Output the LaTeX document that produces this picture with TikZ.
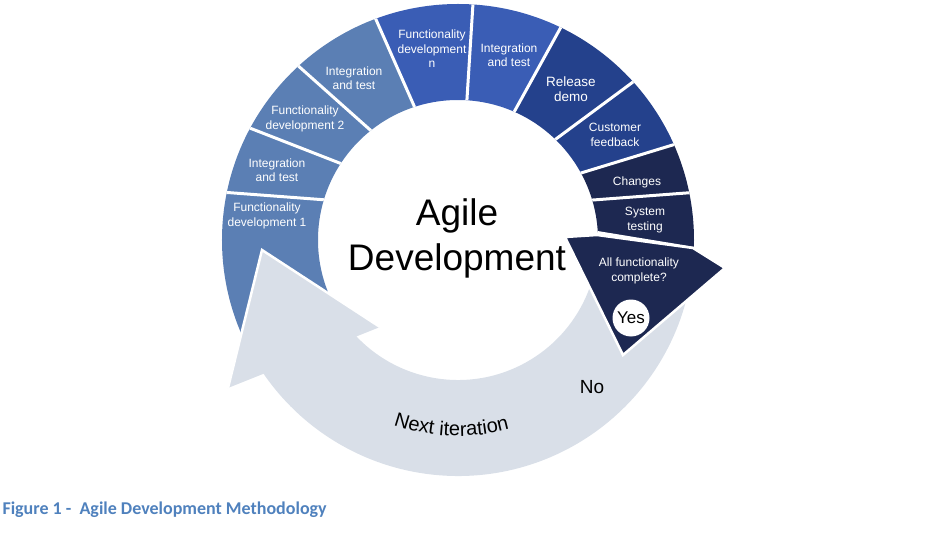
\documentclass[tikz,border=0pt]{standalone}
\usepackage{fontspec}
\setmainfont{Liberation Sans}
\newfontfamily\capfont{Carlito}
\usetikzlibrary{decorations.text}

\definecolor{segsteel}{HTML}{5B7FB4}
\definecolor{segroyal}{HTML}{3A5DB5}
\definecolor{segdeep}{HTML}{24418C}
\definecolor{segnavy}{HTML}{1D2851}
\definecolor{iterband}{HTML}{D9DFE8}
\definecolor{capblue}{HTML}{4F81BD}

\tikzset{
  seglabel/.style={white, font=\fontsize{12}{14.5}\selectfont, align=center},
  gap/.style={draw=white, line width=3},
}

\begin{document}
\begin{tikzpicture}[x=1pt,y=1pt]
\useasboundingbox (-458,-306) rectangle (479,240);
\coordinate (P) at (2,30);

% ring of steps
\begin{scope}[even odd rule]
\clip (0,0) circle[radius=236] (0,0) circle[radius=140];
\fill[segsteel] (P) -- ++(212:400) arc[start angle=212, end angle=175.7, radius=400] -- cycle;
\fill[segsteel] (P) -- ++(175.7:400) arc[start angle=175.7, end angle=158.7, radius=400] -- cycle;
\fill[segsteel] (P) -- ++(158.7:400) arc[start angle=158.7, end angle=138.3, radius=400] -- cycle;
\fill[segsteel] (P) -- ++(138.3:400) arc[start angle=138.3, end angle=113.8, radius=400] -- cycle;
\fill[segroyal] (P) -- ++(113.8:400) arc[start angle=113.8, end angle=86.4, radius=400] -- cycle;
\fill[segroyal] (P) -- ++(86.4:400) arc[start angle=86.4, end angle=61.1, radius=400] -- cycle;
\fill[segdeep] (P) -- ++(61.1:400) arc[start angle=61.1, end angle=36.5, radius=400] -- cycle;
\fill[segdeep] (P) -- ++(36.5:400) arc[start angle=36.5, end angle=17, radius=400] -- cycle;
\fill[segnavy] (P) -- ++(17:400) arc[start angle=17, end angle=4.3, radius=400] -- cycle;
\fill[segnavy] (P) -- ++(4.3:400) arc[start angle=4.3, end angle=-9.3, radius=400] -- cycle;
\foreach \a in {175.7,158.7,138.3,113.8,86.4,61.1,36.5,17,4.3,-9.3}
  \draw[gap] (P) -- ++(\a:400);
\end{scope}

% next iteration arrow
\coordinate (T) at (-196,-10);
\coordinate (B1) at (-230,-148);
\coordinate (B2) at (-78,-87);
\fill[iterband] (-8:236) arc[start angle=-8, end angle=-150, radius=236]
  -- (-150:140) arc[start angle=-150, end angle=-8, radius=140] -- cycle;
\fill[iterband] (B1) -- (T) -- (B2) -- cycle;
\draw[white, line width=2.5] (B1) -- (T) -- (B2);

% decision arrow
\coordinate (L) at (107,3);
\coordinate (Q1) at (139,5);
\coordinate (Q2) at (235,-8);
\coordinate (R) at (267,-28);
\coordinate (D) at (165,-115);
\filldraw[fill=segnavy, draw=white, line width=2.5] (L) -- (Q1) -- (Q2) -- (R) -- (D) -- cycle;

\node[seglabel] (f1) at (-191,24) {Functionality\\development 1};
\node[seglabel] (it1) at (-181,70) {Integration\\and test};
\node[seglabel] (f2) at (-153,121) {Functionality\\development 2};
\node[seglabel] (it2) at (-104,162) {Integration\\and test};
\node[seglabel] (fn) at (-26,191) {Functionality\\development\\n};
\node[seglabel] (it3) at (51,185) {Integration\\and test};
\node[seglabel, font=\fontsize{13.5}{15.5}\selectfont] (rel) at (113,151) {Release\\demo};
\node[seglabel] (cust) at (157,105) {Customer\\feedback};
\node[seglabel] (chg) at (179,58) {Changes};
\node[seglabel] (sys) at (187,20) {System\\testing};
\node[seglabel] (done) at (181,-31) {All functionality\\complete?};
\node[circle, fill=white, minimum size=37, inner sep=0, font=\fontsize{17}{17}\selectfont] (yes) at (173,-78) {Yes};
\node[font=\fontsize{37}{45}\selectfont, align=center] (agile) at (-1,2) {Agile\\Development};
\node[font=\fontsize{19}{19}\selectfont] (no) at (134,-147) {No};
\path[decorate, decoration={text along path, text align=center,
  text={|\fontsize{20}{20}\selectfont|Next iteration}}]
  (236:196) arc[start angle=236, end angle=300, radius=196];

\node[anchor=west, text=capblue, font=\capfont\bfseries\fontsize{18}{18}\selectfont] (cap) at (-459,-270) {Figure 1 -\ \ Agile Development Methodology};
\end{tikzpicture}
\end{document}
